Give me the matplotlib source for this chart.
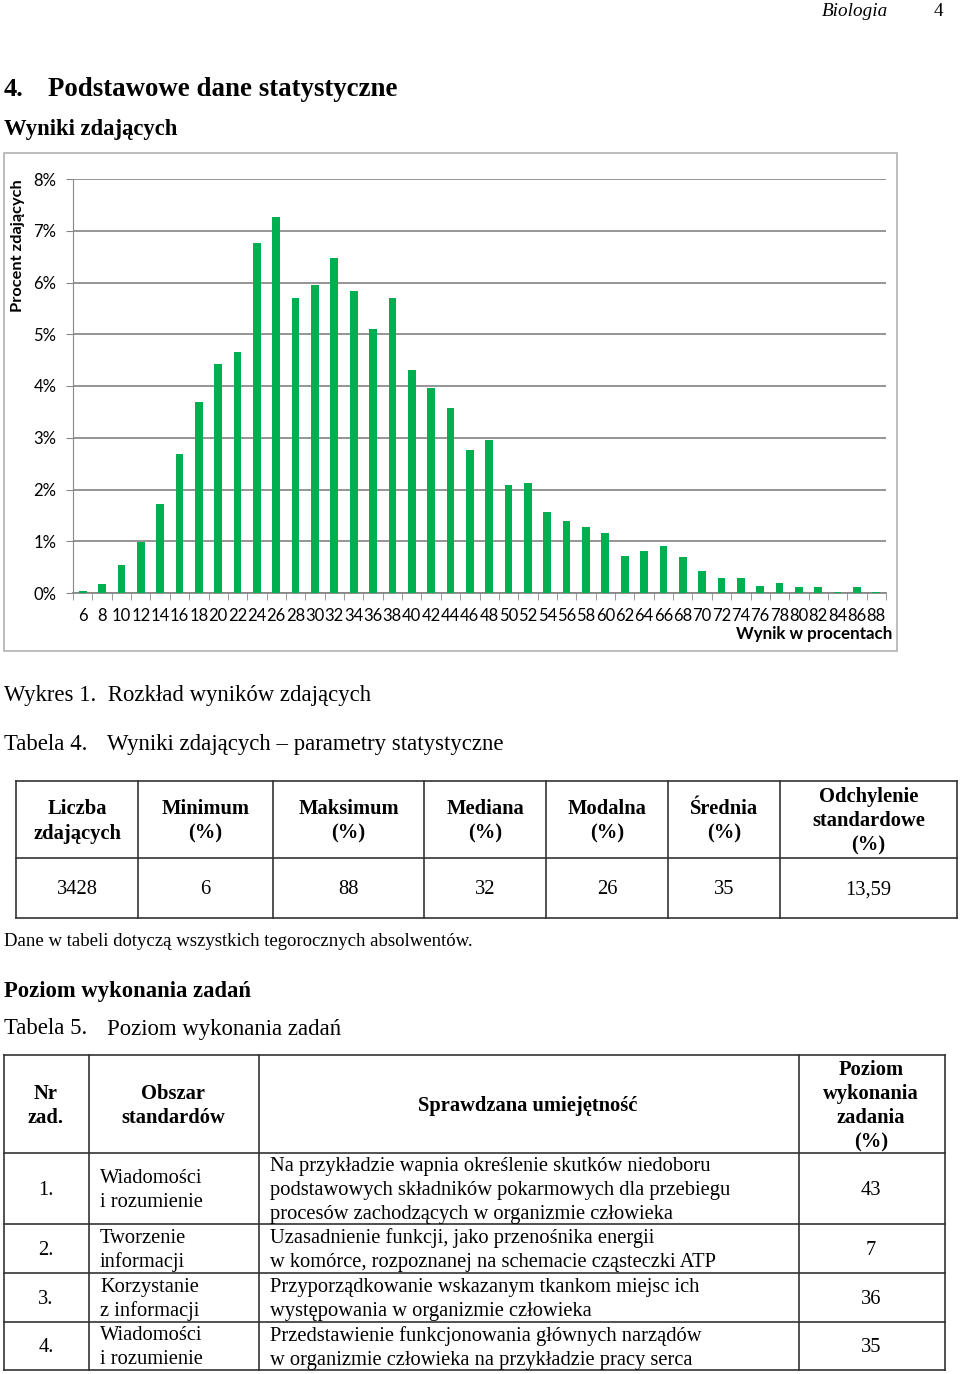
import matplotlib
matplotlib.use('Agg')
import matplotlib.pyplot as plt
from matplotlib.patches import Rectangle
from matplotlib.lines import Line2D

# dane do wykresu 1
wyniki = ['6', '8', '10', '12', '14', '16', '18', '20', '22', '24', '26', '28', '30', '32',
          '34', '36', '38', '40', '42', '44', '46', '48', '50', '52', '54', '56', '58', '60',
          '62', '64', '66', '68', '70', '72', '74', '76', '78', '80', '82', '84', '86', '88']
procent = [0.03, 0.17, 0.55, 0.99, 1.72, 2.68, 3.70, 4.43, 4.66, 6.76, 7.26, 5.71, 5.95, 6.47,
           5.83, 5.10, 5.71, 4.31, 3.96, 3.58, 2.76, 2.96, 2.09, 2.13, 1.57, 1.40, 1.28, 1.16,
           0.72, 0.81, 0.90, 0.70, 0.43, 0.29, 0.29, 0.14, 0.20, 0.11, 0.11, 0.02, 0.11, 0.02]
y_ticks = [0, 1, 2, 3, 4, 5, 6, 7, 8]

# tabela 4
tab4_naglowki = [['Liczba', 'zdających'], ['Minimum', '(%)'], ['Maksimum', '(%)'],
                 ['Mediana', '(%)'], ['Modalna', '(%)'], ['Średnia', '(%)'],
                 ['Odchylenie', 'standardowe', '(%)']]
tab4_wartosci = ['3428', '6', '88', '32', '26', '35', '13,59']

# tabela 5
tab5_nr = ['1.', '2.', '3.', '4.']
tab5_obszar = [['Wiadomości', 'i rozumienie'], ['Tworzenie', 'informacji'],
               ['Korzystanie', 'z informacji'], ['Wiadomości', 'i rozumienie']]
tab5_umiejetnosc = [['Na przykładzie wapnia określenie skutków niedoboru',
                     'podstawowych składników pokarmowych dla przebiegu',
                     'procesów zachodzących w organizmie człowieka'],
                    ['Uzasadnienie funkcji, jako przenośnika energii',
                     'w komórce, rozpoznanej na schemacie cząsteczki ATP'],
                    ['Przyporządkowanie wskazanym tkankom miejsc ich',
                     'występowania w organizmie człowieka'],
                    ['Przedstawienie funkcjonowania głównych narządów',
                     'w organizmie człowieka na przykładzie pracy serca']]
tab5_poziom = ['43', '7', '36', '35']

W, H = 960, 1374
SERIF = 'Liberation Serif'
SANS = 'Lato'
BODY = 14.8  # tekst w tabelach

fig = plt.figure(figsize=(W / 100, H / 100), dpi=100)


def tekst(x, y, s, size=BODY, weight='normal', ha='left', style='normal', family=SERIF):
    # y podane w pikselach od gory, +2 bo va=center liczy tez ogonki liter
    fig.text(x / W, 1 - (y + 2) / H, s, fontsize=size, fontweight=weight, ha=ha, va='center',
             fontstyle=style, family=family)


def linia(x0, y0, x1, y1, color='#333333', lw=1.2):
    fig.add_artist(Line2D([x0 / W, x1 / W], [1 - y0 / H, 1 - y1 / H], color=color, lw=lw,
                          transform=fig.transFigure))


# naglowek strony
tekst(822, 10, 'Biologia', size=13.8, style='italic')
tekst(934, 10, '4', size=13.8)
tekst(4, 88, '4.', size=19, weight='bold')
tekst(48, 88, 'Podstawowe dane statystyczne', size=19.4, weight='bold')
tekst(4, 128, 'Wyniki zdających', size=16.3, weight='bold')

# ramka wykresu
fig.add_artist(Rectangle((4 / W, 1 - 651 / H), 893 / W, 498 / H, fill=False,
                         edgecolor='#b0b0b0', lw=1.2, transform=fig.transFigure))

ax = fig.add_axes([73 / W, 1 - 593 / H, 813 / W, 414 / H])
x = range(len(procent))
ax.bar(x, procent, width=0.4, color='#00b050', zorder=3)
ax.set_xlim(-0.5, len(procent) - 0.5)
ax.set_ylim(0, 8)
ax.set_yticks(y_ticks)
ax.set_yticklabels([f'{v}%' for v in y_ticks], family=SANS, fontsize=12)
ax.set_xticks(list(x))
ax.set_xticklabels(wyniki, family=SANS, fontsize=12)
ax.set_xticks([i - 0.5 for i in range(len(procent) + 1)], minor=True)
ax.tick_params(axis='x', which='major', length=0, pad=11)
ax.tick_params(axis='x', which='minor', length=5, color='#888888')
ax.tick_params(axis='y', length=5, color='#888888', pad=7)
ax.grid(axis='y', color='#8c8c8c', lw=1.3, zorder=0)
for s in ['top', 'right']:
    ax.spines[s].set_visible(False)
ax.spines['left'].set_color('#888888')
ax.spines['bottom'].set_color('#888888')
ax.spines['bottom'].set_linewidth(1.3)

fig.text(18 / W, 1 - 246 / H, 'Procent zdających', rotation=90, ha='center', va='center',
         family=SANS, fontsize=11.8, fontweight='bold')
fig.text(892 / W, 1 - 634 / H, 'Wynik w procentach', ha='right', va='center',
         family=SANS, fontsize=12.2, fontweight='bold')

# podpisy
tekst(4, 694, 'Wykres 1.  Rozkład wyników zdających', size=16.4)
tekst(4, 743, 'Tabela 4.', size=16.4)
tekst(107, 743, 'Wyniki zdających – parametry statystyczne', size=16.4)

# tabela 4
t4_x = [16, 138, 273, 424, 546, 668, 780, 957]
t4_y = [781, 858, 918]
for xx in t4_x:
    linia(xx, t4_y[0], xx, t4_y[-1])
for yy in t4_y:
    linia(t4_x[0], yy, t4_x[-1], yy)
for i, nag in enumerate(tab4_naglowki):
    cx = (t4_x[i] + t4_x[i + 1]) / 2
    y0 = 819.5 - (len(nag) - 1) * 12
    for j, s in enumerate(nag):
        tekst(cx, y0 + j * 24, s, weight='bold', ha='center')
    tekst(cx, 888, tab4_wartosci[i], ha='center')

tekst(4, 940, 'Dane w tabeli dotyczą wszystkich tegorocznych absolwentów.', size=13.5)
tekst(4, 989, 'Poziom wykonania zadań', size=16.3, weight='bold')
tekst(4, 1027, 'Tabela 5.', size=16.4)
tekst(107, 1027, 'Poziom wykonania zadań', size=16.4)

# tabela 5
t5_x = [4, 89, 259, 799, 945]
t5_y = [1055, 1153, 1224, 1273, 1322, 1370]
for xx in t5_x:
    linia(xx, t5_y[0], xx, t5_y[-1])
for yy in t5_y:
    linia(t5_x[0], yy, t5_x[-1], yy)
tekst(46, 1092, 'Nr', weight='bold', ha='center')
tekst(46, 1116, 'zad.', weight='bold', ha='center')
tekst(173, 1092, 'Obszar', weight='bold', ha='center')
tekst(173, 1116, 'standardów', weight='bold', ha='center')
tekst(528, 1104, 'Sprawdzana umiejętność', weight='bold', ha='center')
for j, s in enumerate(['Poziom', 'wykonania', 'zadania', '(%)']):
    tekst(871, 1068 + j * 24, s, weight='bold', ha='center')

for i in range(len(tab5_nr)):
    cy = (t5_y[i + 1] + t5_y[i + 2]) / 2
    tekst(46, cy, tab5_nr[i], ha='center')
    tekst(871, cy, tab5_poziom[i], ha='center')
    ob = tab5_obszar[i]
    for j, s in enumerate(ob):
        tekst(100, cy - (len(ob) - 1) * 12 + j * 24, s)
    um = tab5_umiejetnosc[i]
    for j, s in enumerate(um):
        tekst(270, cy - (len(um) - 1) * 12 + j * 24, s)

fig.savefig('out.png', dpi=100)
